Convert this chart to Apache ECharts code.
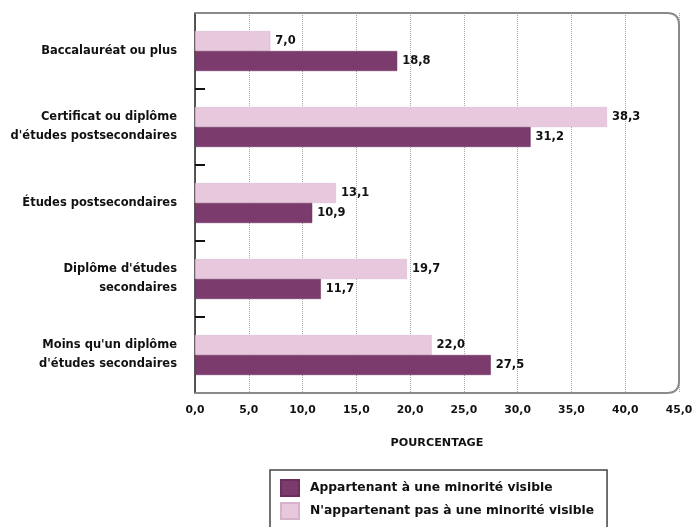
<!DOCTYPE html>
<html lang="fr">
<head>
<meta charset="utf-8">
<title>Niveau de scolarité selon l'appartenance à une minorité visible</title>
<script src="https://cdn.jsdelivr.net/npm/echarts@6/dist/echarts.min.js"></script>
<style>
  html, body { margin: 0; padding: 0; background: #ffffff; }
  #chart { width: 699px; height: 527px; }
</style>
</head>
<body>
<div id="chart"></div>
<script>
// Education levels (top to bottom)
const categories = [
  'Baccalauréat ou plus',
  'Certificat ou diplôme\nd\'études postsecondaires',
  'Études postsecondaires',
  'Diplôme d\'études\nsecondaires',
  'Moins qu\'un diplôme\nd\'études secondaires'
];

const seriesNames = [
  'Appartenant à une minorité visible',
  'N\'appartenant pas à une minorité visible'
];

// Percentages per education level
const visibleMinority = [18.8, 31.2, 10.9, 11.7, 27.5];
const notVisibleMinority = [7.0, 38.3, 13.1, 19.7, 22.0];

// Percentage axis
const axisMin = 0;
const axisMax = 45;
const axisStep = 5;

const FONT = '"DejaVu Sans", "Liberation Sans", sans-serif';
const TEXT = '#111111';
const fr = v => Number(v).toFixed(1).replace('.', ',');

const GRID = { left: 195, top: 13, right: 20, bottom: 134 };
const W = 699, H = 527;

// Plot frame: top, right and bottom edges with rounded right corners
const fx0 = GRID.left, fy0 = GRID.top;
const fx1 = W - GRID.right, fy1 = H - GRID.bottom;
const rc = 12;
const frameStyle = { fill: 'none', stroke: '#8a8a8a', lineWidth: 2 };
const frame = [
  { type: 'polyline', shape: { points: [[fx0, fy0], [fx1 - rc, fy0]] } },
  { type: 'bezierCurve', shape: { x1: fx1 - rc, y1: fy0, cpx1: fx1, cpy1: fy0, x2: fx1, y2: fy0 + rc } },
  { type: 'polyline', shape: { points: [[fx1, fy0 + rc], [fx1, fy1 - rc]] } },
  { type: 'bezierCurve', shape: { x1: fx1, y1: fy1 - rc, cpx1: fx1, cpy1: fy1, x2: fx1 - rc, y2: fy1 } },
  { type: 'polyline', shape: { points: [[fx1 - rc, fy1], [fx0, fy1]] } }
].map(el => Object.assign(el, { z: 20, silent: true, style: frameStyle }));

const chart = echarts.init(document.getElementById('chart'), null, { renderer: 'canvas' });

const valueLabel = {
  show: true,
  position: 'right',
  distance: 5,
  fontFamily: FONT,
  fontWeight: 'bold',
  fontSize: 11.5,
  color: TEXT,
  formatter: p => fr(p.value)
};

chart.setOption({
  animation: false,
  backgroundColor: '#ffffff',
  grid: { left: GRID.left, top: GRID.top, right: GRID.right, bottom: GRID.bottom },
  graphic: frame,
  legend: {
    type: 'plain',
    data: seriesNames,
    orient: 'vertical',
    left: 270,
    top: 470,
    width: 400,
    height: 80,
    icon: 'rect',
    itemWidth: 18,
    itemHeight: 16,
    itemGap: 5,
    padding: [9, 13, 20, 10],
    borderColor: '#444',
    borderWidth: 1.5,
    selectedMode: false,
    textStyle: {
      fontFamily: FONT,
      fontWeight: 'bold',
      fontSize: 12.3,
      color: TEXT,
      padding: [0, 0, 0, 6]
    }
  },
  xAxis: {
    type: 'value',
    min: axisMin,
    max: axisMax,
    interval: axisStep,
    name: 'POURCENTAGE',
    nameLocation: 'middle',
    nameGap: 45,
    nameTextStyle: {
      fontFamily: FONT,
      fontWeight: 'bold',
      fontSize: 11.2,
      color: TEXT
    },
    axisLine: { show: false },
    axisTick: { show: false },
    axisLabel: {
      margin: 12,
      fontFamily: FONT,
      fontWeight: 'bold',
      fontSize: 10.8,
      color: TEXT,
      formatter: v => fr(v)
    },
    splitLine: {
      show: true,
      lineStyle: { color: '#a8a8a8', type: 'dotted', width: 1 }
    }
  },
  yAxis: {
    type: 'category',
    data: categories,
    inverse: true,
    axisLine: { show: true, lineStyle: { color: '#222', width: 1.5 } },
    axisTick: {
      show: true,
      inside: true,
      length: 10,
      interval: idx => idx > 0 && idx < categories.length,
      lineStyle: { color: '#111', width: 2 }
    },
    axisLabel: {
      margin: 18,
      fontFamily: FONT,
      fontWeight: 'bold',
      fontSize: 11.5,
      lineHeight: 19,
      color: TEXT,
      align: 'right'
    },
    splitLine: { show: false }
  },
  series: [
    {
      name: seriesNames[1],
      type: 'bar',
      data: notVisibleMinority,
      barWidth: 20,
      barGap: '0%',
      itemStyle: { color: '#e7c8dc', borderColor: '#d7b2ca', borderWidth: 0.5 },
      label: valueLabel,
      z: 3
    },
    {
      name: seriesNames[0],
      type: 'bar',
      data: visibleMinority,
      barWidth: 20,
      barGap: '0%',
      itemStyle: { color: '#7b3b6c', borderColor: '#6b2e5d', borderWidth: 0.5 },
      label: valueLabel,
      z: 3
    }
  ]
});
</script>
</body>
</html>
